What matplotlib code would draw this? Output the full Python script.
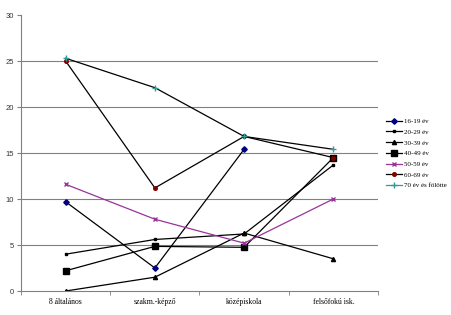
import numpy as np
import matplotlib
matplotlib.use("Agg")
import matplotlib.pyplot as plt
from matplotlib.lines import Line2D

# categories (school level) and age group series
categories = ["8 általános", "szakm.-képző", "középiskola", "felsőfokú isk."]
age_groups = ["16-19 év", "20-29 év", "30-39 év", "40-49 év",
              "50-59 év", "60-69 év", "70 év és fölötte"]

v_16_19 = [9.7, 2.5, 15.4, np.nan]
v_20_29 = [4.0, 5.6, 6.2, 13.7]
v_30_39 = [0.0, 1.5, 6.3, 3.5]
v_40_49 = [2.2, 4.85, 4.75, 14.5]
v_50_59 = [11.6, 7.8, 5.2, 10.0]
v_60_69 = [25.0, 11.2, 16.8, 14.5]
v_70_up = [25.3, 22.1, 16.8, 15.4]

series = [v_16_19, v_20_29, v_30_39, v_40_49, v_50_59, v_60_69, v_70_up]

# styles: line colour, marker, marker colour, marker size
styles = [
    ("black", "D", "#000080", 2.8),
    ("black", "s", "black", 2.0),
    ("black", "^", "black", 3.0),
    ("black", "s", "black", 4.3),
    ("#993399", "x", "#993399", 3.3),
    ("black", "o", "#800000", 2.6),
    ("black", "+", "#339999", 5.0),
]

fig = plt.figure(figsize=(4.52, 3.15), dpi=100)
ax = fig.add_axes([21 / 452, 24 / 315, 357 / 452, 276 / 315])

x = np.arange(len(categories))
handles = []
for vals, lab, (lc, mk, mc, ms) in zip(series, age_groups, styles):
    ax.plot(x, vals, color=lc, lw=0.9, marker=mk, markersize=ms,
            markerfacecolor=mc, markeredgecolor=mc, markeredgewidth=1.0)
    hc = mc if lab == "70 év és fölötte" else lc
    handles.append(Line2D([], [], color=hc, lw=0.9, marker=mk, markersize=ms,
                          markerfacecolor=mc, markeredgecolor=mc,
                          markeredgewidth=1.0, label=lab))

ax.set_xlim(-0.5, 3.5)
ax.set_ylim(0, 30)
ax.set_yticks(range(0, 31, 5))
ax.set_yticklabels([str(v) for v in range(0, 31, 5)],
                   fontsize=5.5, family="Liberation Sans", color="#333333")
ax.set_xticks(x)
ax.set_xticklabels(categories, fontsize=5.5, family="Liberation Serif")
ax.set_xticks([-0.5, 0.5, 1.5, 2.5, 3.5], minor=True)
ax.tick_params(axis="x", which="major", length=0, pad=5)
ax.tick_params(axis="x", which="minor", length=3, color="#808080", direction="out")
ax.tick_params(axis="y", length=3, color="#808080", pad=2)

for yv in [5, 10, 15, 20, 25]:
    ax.axhline(yv, color="#808080", lw=0.8, zorder=0)

for s in ["top", "right"]:
    ax.spines[s].set_visible(False)
for s in ["left", "bottom"]:
    ax.spines[s].set_color("#808080")
    ax.spines[s].set_linewidth(0.8)

fig.legend(handles=handles, loc="upper left", bbox_to_anchor=(380 / 452, 1 - 112 / 315),
           frameon=False, prop={"family": "Liberation Serif", "size": 5},
           handlelength=2.2, labelspacing=0.7, handletextpad=0.3)

fig.savefig("out.png", dpi=100)
